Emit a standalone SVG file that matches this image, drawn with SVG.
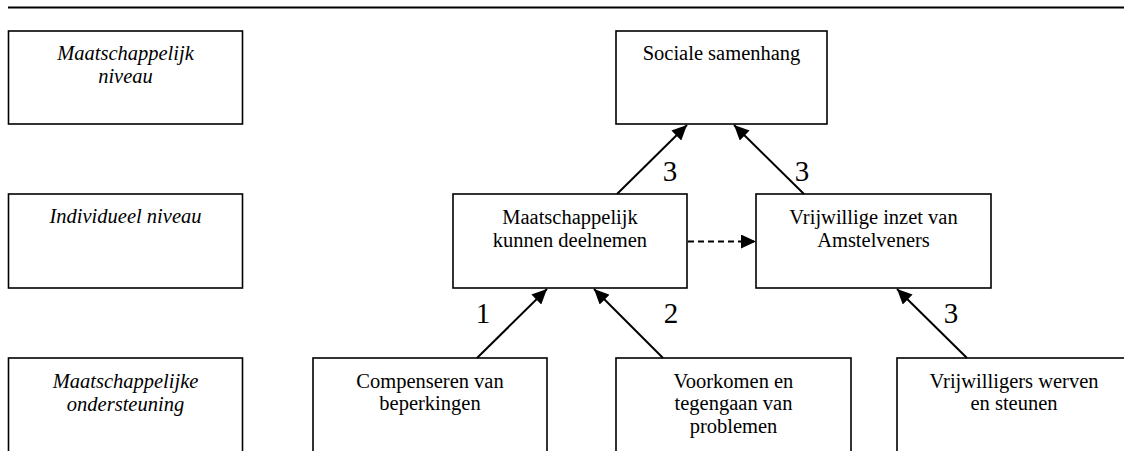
<svg xmlns="http://www.w3.org/2000/svg" width="1124" height="451" viewBox="0 0 1124 451" font-family="Liberation Serif, serif">
<defs>
<style>
.box{fill:#fff;stroke:#000;stroke-width:1.6}
.t{font-size:20.5px;fill:#000;text-anchor:middle}
.i{font-style:italic}
.n{font-size:29px;fill:#000;text-anchor:middle}
.a{stroke:#000;stroke-width:2;fill:none;marker-end:url(#ah)}
.d{stroke-dasharray:6,4}
</style>
<marker id="ah" markerUnits="userSpaceOnUse" markerWidth="16" markerHeight="14" refX="15" refY="7" orient="auto">
<path d="M0,0 L15,7 L0,14 z" fill="#000"/>
</marker>
</defs>
<line x1="8" y1="7.5" x2="1124" y2="7.5" stroke="#000" stroke-width="1.8"/>
<g id="lvl-maatschappelijk">
<rect class="box" x="8.5" y="31" width="234" height="93"/>
<text class="t i" font-family="Liberation Serif" x="125.5" y="59.5">Maatschappelijk</text>
<text class="t i" font-family="Liberation Serif" x="125.5" y="82.5">niveau</text>
</g>
<g id="lvl-individueel">
<rect class="box" x="8.5" y="194" width="234" height="94"/>
<text class="t i" font-family="Liberation Serif" x="125.5" y="223">Individueel niveau</text>
</g>
<g id="lvl-ondersteuning">
<rect class="box" x="8.5" y="358" width="234" height="100"/>
<text class="t i" font-family="Liberation Serif" x="125.5" y="387.5">Maatschappelijke</text>
<text class="t i" font-family="Liberation Serif" x="125.5" y="410.5">ondersteuning</text>
</g>
<g id="sociale">
<rect class="box" x="616" y="31" width="211" height="93"/>
<text class="t" font-family="Liberation Serif" x="721.5" y="59.5">Sociale samenhang</text>
</g>
<g id="deelnemen">
<rect class="box" x="453" y="194" width="234" height="94"/>
<text class="t" font-family="Liberation Serif" x="570" y="224">Maatschappelijk</text>
<text class="t" font-family="Liberation Serif" x="570" y="246.7">kunnen deelnemen</text>
</g>
<g id="inzet">
<rect class="box" x="756" y="194" width="235" height="94"/>
<text class="t" font-family="Liberation Serif" x="873.5" y="224">Vrijwillige inzet van</text>
<text class="t" font-family="Liberation Serif" x="873.5" y="246.7">Amstelveners</text>
</g>
<g id="compenseren">
<rect class="box" x="313" y="358" width="234" height="100"/>
<text class="t" font-family="Liberation Serif" x="430" y="387.7">Compenseren van</text>
<text class="t" font-family="Liberation Serif" x="430" y="410.4">beperkingen</text>
</g>
<g id="voorkomen">
<rect class="box" x="616" y="358" width="235" height="100"/>
<text class="t" font-family="Liberation Serif" x="733.5" y="387.7">Voorkomen en</text>
<text class="t" font-family="Liberation Serif" x="733.5" y="410.4">tegengaan van</text>
<text class="t" font-family="Liberation Serif" x="733.5" y="433">problemen</text>
</g>
<g id="werven">
<rect class="box" x="897" y="358" width="234" height="100"/>
<text class="t" font-family="Liberation Serif" x="1014" y="387.7">Vrijwilligers werven</text>
<text class="t" font-family="Liberation Serif" x="1014" y="410.4">en steunen</text>
</g>
<g id="connectors">
<line class="a" x1="617" y1="194" x2="687" y2="125"/>
<line class="a" x1="804" y1="194" x2="734" y2="125"/>
<line class="a" x1="477" y1="358" x2="547" y2="289"/>
<line class="a" x1="663" y1="358" x2="594" y2="289"/>
<line class="a" x1="967" y1="358" x2="897" y2="289"/>
<line class="a d" x1="688" y1="241.5" x2="756" y2="241.5"/>
<text class="n" font-family="Liberation Serif" x="670" y="181">3</text>
<text class="n" font-family="Liberation Serif" x="802" y="181">3</text>
<text class="n" font-family="Liberation Serif" x="483" y="323">1</text>
<text class="n" font-family="Liberation Serif" x="671" y="323">2</text>
<text class="n" font-family="Liberation Serif" x="951" y="323">3</text>
</g>
</svg>
